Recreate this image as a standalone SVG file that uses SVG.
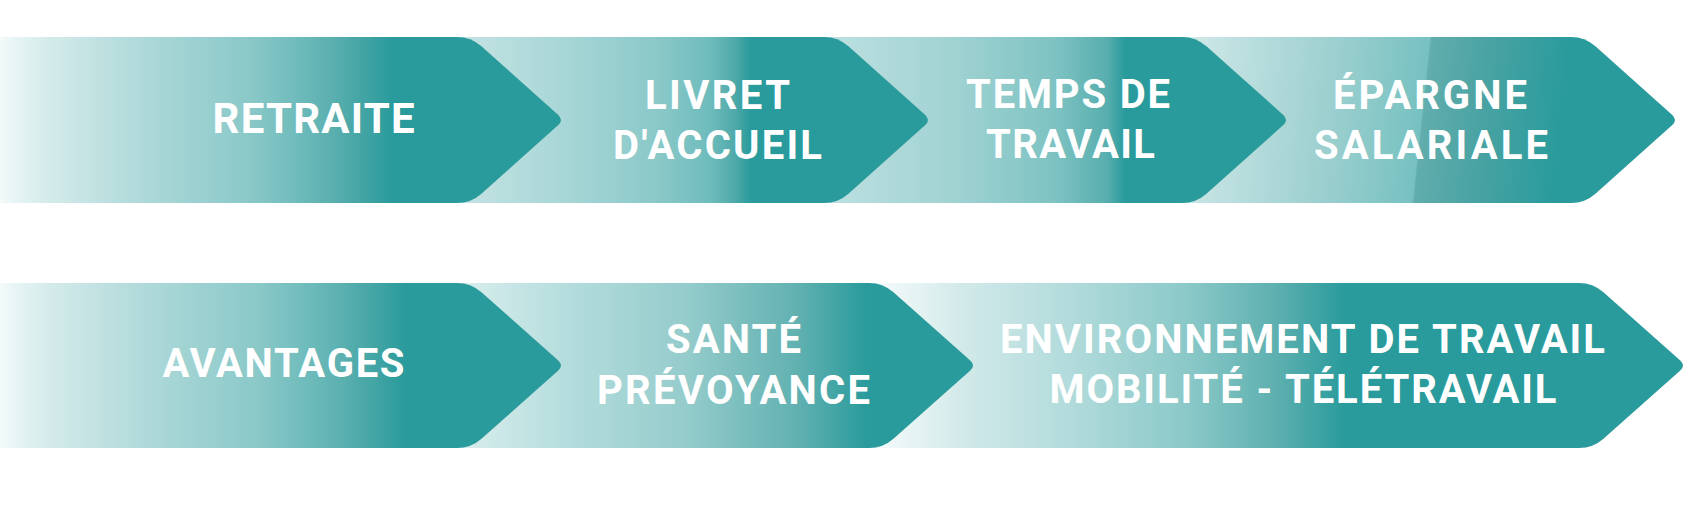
<svg xmlns="http://www.w3.org/2000/svg" width="1698" height="528" viewBox="0 0 1698 528">
<style>
text{font-family:Roboto,"Liberation Sans",Arial,sans-serif;font-weight:700;fill:#ffffff;text-anchor:middle;font-size:40px}
.big{font-size:42px}
</style>
<defs>
<linearGradient id="g11" gradientUnits="userSpaceOnUse" x1="0" y1="0" x2="392" y2="0">
<stop offset="0" stop-color="#f3fafa"/><stop offset="0.05" stop-color="#e4f3f3"/><stop offset="0.13" stop-color="#d3eaea"/><stop offset="0.26" stop-color="#bfe0e0"/><stop offset="0.38" stop-color="#acd8d8"/><stop offset="0.51" stop-color="#9bd0d0"/><stop offset="0.64" stop-color="#8ac8c8"/><stop offset="0.77" stop-color="#6cbaba"/><stop offset="0.85" stop-color="#5aafaf"/><stop offset="0.92" stop-color="#45a5a5"/><stop offset="1" stop-color="#2a9b9c"/>
</linearGradient>
<linearGradient id="g21" gradientUnits="userSpaceOnUse" x1="0" y1="0" x2="405" y2="0">
<stop offset="0" stop-color="#f3fafa"/><stop offset="0.05" stop-color="#e4f3f3"/><stop offset="0.13" stop-color="#d3eaea"/><stop offset="0.26" stop-color="#bfe0e0"/><stop offset="0.38" stop-color="#acd8d8"/><stop offset="0.51" stop-color="#9bd0d0"/><stop offset="0.64" stop-color="#8ac8c8"/><stop offset="0.77" stop-color="#6cbaba"/><stop offset="0.85" stop-color="#5aafaf"/><stop offset="0.92" stop-color="#45a5a5"/><stop offset="1" stop-color="#2a9b9c"/>
</linearGradient>
<linearGradient id="g12" gradientUnits="userSpaceOnUse" x1="450" y1="0" x2="750" y2="0">
<stop offset="0" stop-color="#c8e6e6"/><stop offset="0.1" stop-color="#bfe0e0"/><stop offset="0.367" stop-color="#a9d7d7"/><stop offset="0.697" stop-color="#8ac8c8"/><stop offset="0.863" stop-color="#6fbcbc"/><stop offset="0.95" stop-color="#4fa9a9"/><stop offset="1" stop-color="#2a9b9c"/>
</linearGradient>
<linearGradient id="g13" gradientUnits="userSpaceOnUse" x1="820" y1="0" x2="1125" y2="0">
<stop offset="0" stop-color="#c2e2e2"/><stop offset="0.092" stop-color="#b8dede"/><stop offset="0.449" stop-color="#a0d2d2"/><stop offset="0.777" stop-color="#7dc2c2"/><stop offset="0.941" stop-color="#58aeae"/><stop offset="1" stop-color="#2a9b9c"/>
</linearGradient>
<linearGradient id="g14" gradientUnits="userSpaceOnUse" x1="1180" y1="0" x2="1560" y2="0" gradientTransform="translate(13 0) skewX(-6.2)">
<stop offset="0" stop-color="#d2eaea"/><stop offset="0.079" stop-color="#c5e3e3"/><stop offset="0.395" stop-color="#9ccfcf"/><stop offset="0.634" stop-color="#77c1c1"/><stop offset="0.639" stop-color="#62adad"/><stop offset="0.79" stop-color="#4aa3a3"/><stop offset="1" stop-color="#2a9b9c"/>
</linearGradient>
<linearGradient id="g22" gradientUnits="userSpaceOnUse" x1="450" y1="0" x2="866" y2="0">
<stop offset="0" stop-color="#dcefef"/><stop offset="0.077" stop-color="#d2eaea"/><stop offset="0.293" stop-color="#b3dcdc"/><stop offset="0.562" stop-color="#96cccc"/><stop offset="0.834" stop-color="#62b1b1"/><stop offset="0.938" stop-color="#3fa3a3"/><stop offset="1" stop-color="#2a9b9c"/>
</linearGradient>
<linearGradient id="g23" gradientUnits="userSpaceOnUse" x1="860" y1="0" x2="1345" y2="0">
<stop offset="0" stop-color="#f5fbfb"/><stop offset="0.066" stop-color="#eff8f8"/><stop offset="0.216" stop-color="#d1e9e9"/><stop offset="0.447" stop-color="#b0dada"/><stop offset="0.68" stop-color="#8ac8c8"/><stop offset="0.854" stop-color="#5fb0b0"/><stop offset="1" stop-color="#2a9b9c"/>
</linearGradient>
</defs>
<rect width="1698" height="528" fill="#ffffff"/>

<g id="epargne-salariale">
<path fill="url(#g14)" d="M1170 37 H1571 Q1585 37 1595.45 46.32 L1672.03 114.67 Q1678 120 1672.03 125.33 L1595.45 193.68 Q1585 203 1571 203 H1170 Z"/>
<text x="1430" y="109" textLength="194" lengthAdjust="spacing">ÉPARGNE</text>
<text x="1431" y="159" textLength="234" lengthAdjust="spacing">SALARIALE</text>
</g>
<g id="temps-de-travail">
<path fill="url(#g13)" d="M810 37 H1182 Q1196 37 1206.45 46.32 L1283.03 114.67 Q1289 120 1283.03 125.33 L1206.45 193.68 Q1196 203 1182 203 H810 Z"/>
<text x="1068" y="108" textLength="204" lengthAdjust="spacing">TEMPS DE</text>
<text x="1070.5" y="158" textLength="169" lengthAdjust="spacing">TRAVAIL</text>
</g>
<g id="livret-accueil">
<path fill="url(#g12)" d="M440 37 H824 Q838 37 848.45 46.32 L925.03 114.67 Q931 120 925.03 125.33 L848.45 193.68 Q838 203 824 203 H440 Z"/>
<text x="717.5" y="109" textLength="145" lengthAdjust="spacing">LIVRET</text>
<text x="717.5" y="159" textLength="209" lengthAdjust="spacing">D'ACCUEIL</text>
</g>
<g id="retraite">
<path fill="url(#g11)" d="M-2 37 H457 Q471 37 481.45 46.32 L558.03 114.67 Q564 120 558.03 125.33 L481.45 193.68 Q471 203 457 203 H-2 Z"/>
<text class="big" x="313.5" y="133" textLength="202" lengthAdjust="spacing">RETRAITE</text>
</g>

<g id="environnement-travail">
<path fill="url(#g23)" d="M850 283 H1579 Q1593 283 1603.47 292.29 L1680.01 360.19 Q1686 365.5 1680.01 370.81 L1603.47 438.71 Q1593 448 1579 448 H850 Z"/>
<text x="1302.5" y="353" textLength="605" lengthAdjust="spacing">ENVIRONNEMENT DE TRAVAIL</text>
<text x="1303" y="403" textLength="507" lengthAdjust="spacing">MOBILITÉ - TÉLÉTRAVAIL</text>
</g>
<g id="sante-prevoyance">
<path fill="url(#g22)" d="M440 283 H869 Q883 283 893.47 292.29 L970.01 360.19 Q976 365.5 970.01 370.81 L893.47 438.71 Q883 448 869 448 H440 Z"/>
<text x="733.5" y="353" textLength="135" lengthAdjust="spacing">SANTÉ</text>
<text x="733.5" y="404" textLength="273" lengthAdjust="spacing">PRÉVOYANCE</text>
</g>
<g id="avantages">
<path fill="url(#g21)" d="M-2 283 H457 Q471 283 481.47 292.29 L558.01 360.19 Q564 365.5 558.01 370.81 L481.47 438.71 Q471 448 457 448 H-2 Z"/>
<text x="283.5" y="377" textLength="242" lengthAdjust="spacing">AVANTAGES</text>
</g>

<g id="connectors"/>
</svg>
